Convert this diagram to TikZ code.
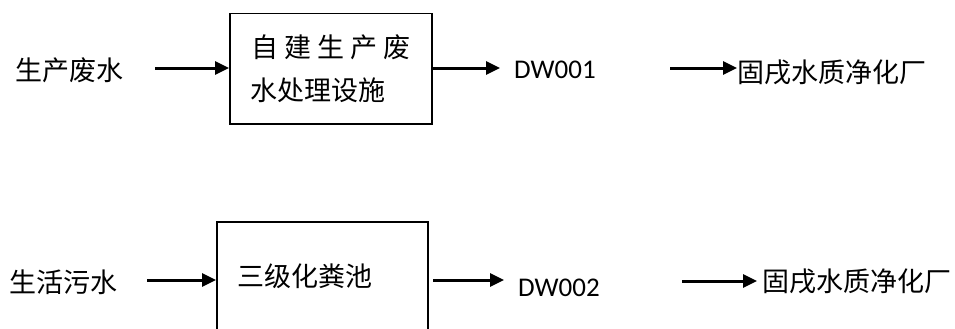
\documentclass[tikz,border=0pt]{standalone}
\usepackage{fontspec}
\setmainfont{Carlito}
\newfontfamily\cjk{Noto Sans CJK SC}
\usetikzlibrary{arrows.meta}
\begin{document}
\begin{tikzpicture}[x=1pt,y=-1pt,
  cn/.style={font=\cjk\fontsize{27}{30}\selectfont, inner sep=0pt},
  lat/.style={font=\fontsize{27}{30}\selectfont, inner sep=0pt},
  arr/.style={line width=3pt, -{Triangle[length=14pt,width=13pt]}},
  boxst/.style={draw, line width=1.5pt, inner sep=0pt}]
\useasboundingbox (0,0) rectangle (955,329);
\clip (0,0) rectangle (955,329);
% row 1
\node[cn, anchor=west] (s1) at (15,70) {生产废水};
\node[boxst, minimum width=202pt, minimum height=110pt, anchor=north west] (b1) at (229,13) {};
\node[cn, anchor=west] (b1a) at (251,47) {自\hspace{6pt}建\hspace{6pt}生\hspace{6pt}产\hspace{6pt}废};
\node[cn, anchor=west] (b1b) at (250,90) {水处理设施};
\node[lat, anchor=west] (d1) at (514,70) {DW001};
\node[cn, anchor=west] (t1) at (737,72) {固戌水质净化厂};
\coordinate (a1s) at (155,68);
\coordinate (a2e) at (500,68);
\coordinate (a3s) at (670,68);
\draw[arr] (a1s) -- (a1s -| b1.west);
\draw[arr] (b1.east |- a2e) -- (a2e);
\draw[arr] (a3s) -- (a3s -| t1.west);
% row 2
\node[cn, anchor=west] (s2) at (9,282) {生活污水};
\node[boxst, minimum width=211pt, minimum height=130pt, anchor=north west] (b2) at (216,221) {};
\node[cn, anchor=west] (b2a) at (237,276) {三级化粪池};
\node[lat, anchor=west] (d2) at (518,288) {DW002};
\node[cn, anchor=west] (t2) at (762,281) {固戌水质净化厂};
\coordinate (c1s) at (147,280);
\coordinate (c2s) at (433,280);
\coordinate (c2e) at (504,280);
\coordinate (c3s) at (682,281);
\coordinate (c3e) at (757,281);
\draw[arr] (c1s) -- (c1s -| b2.west);
\draw[arr] (c2s) -- (c2e);
\draw[arr] (c3s) -- (c3e);
\end{tikzpicture}
\end{document}
